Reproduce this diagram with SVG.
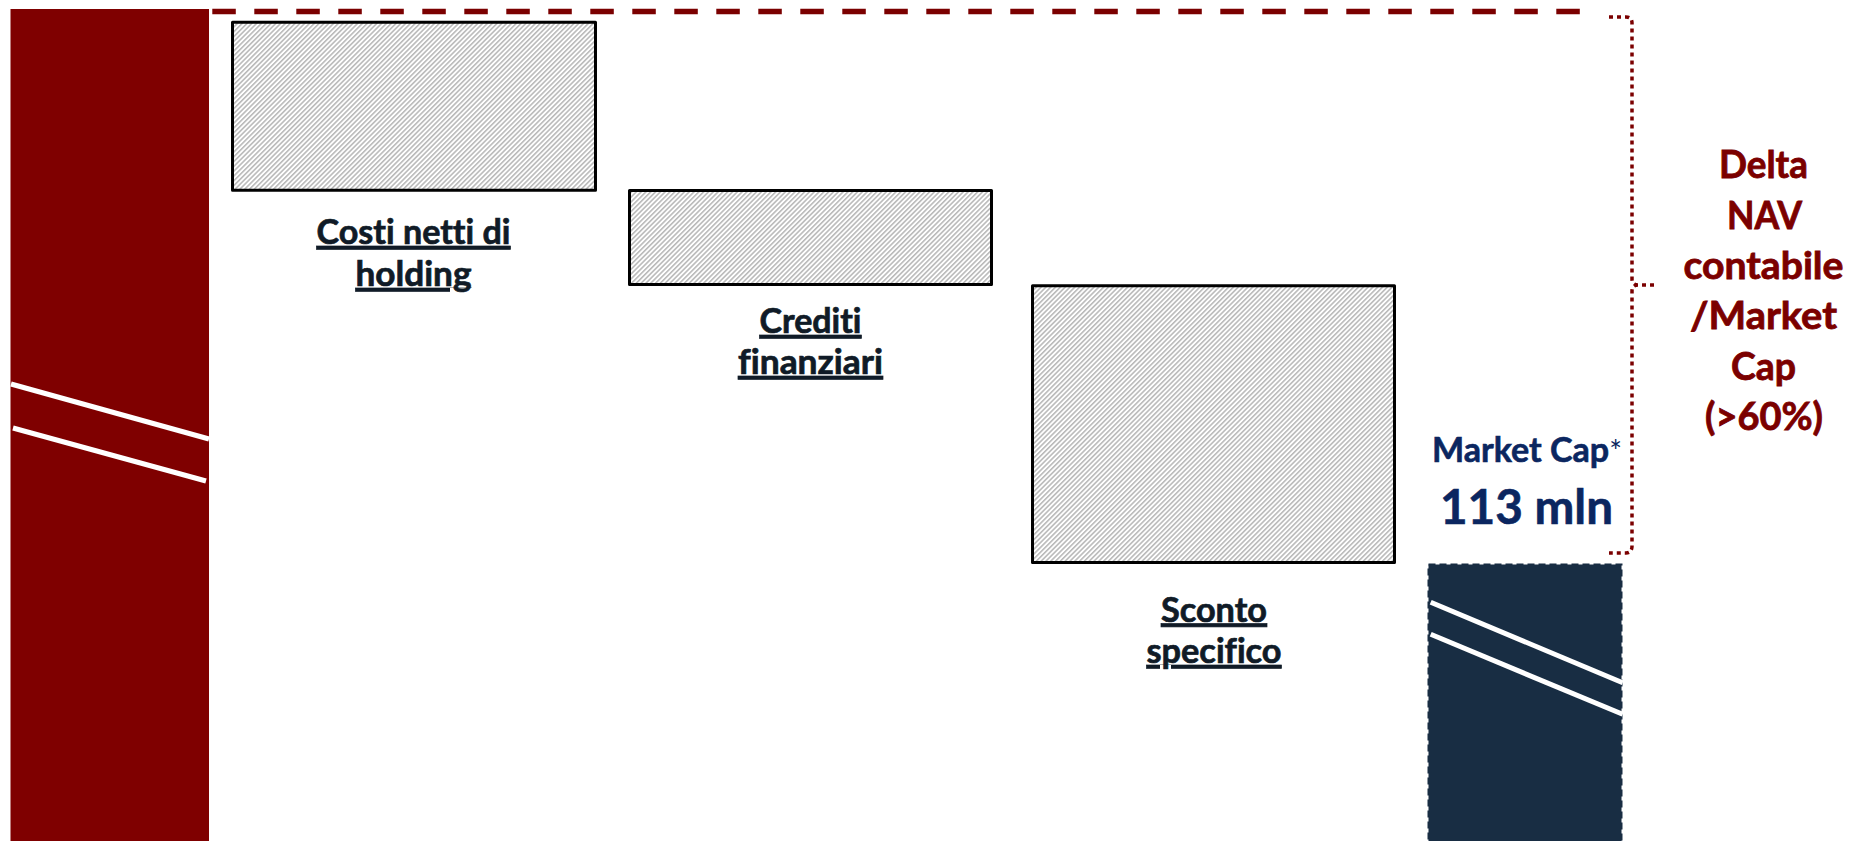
<svg xmlns="http://www.w3.org/2000/svg" width="1852" height="841" viewBox="0 0 1852 841">
  <style>
    text { font-family: Lato, "Open Sans", "Liberation Sans", sans-serif; font-weight: bold; font-variant-ligatures: none; }
    .lbl { fill: #101b27; stroke: #101b27; stroke-width: 0.7; font-size: 34px; text-anchor: middle; text-decoration: underline; }
    .delta { fill: #7b0000; stroke: #7b0000; stroke-width: 0.8; font-size: 38px; text-anchor: middle; }
    .mc { fill: #0b2660; stroke: #0b2660; stroke-width: 0.6; }
    .box { fill: url(#hatch); stroke: #000; stroke-width: 3; stroke-linejoin: round; }
    .cut { stroke: #fff; stroke-width: 5; }
  </style>
  <defs>
    <pattern id="hatch" width="3.4" height="3.4" patternUnits="userSpaceOnUse" patternTransform="rotate(45)">
      <rect width="3.4" height="3.4" fill="#fff"/>
      <line x1="0.8" y1="0" x2="0.8" y2="3.4" stroke="#aaaaaa" stroke-width="1.3"/>
    </pattern>
  </defs>
  <rect width="1852" height="841" fill="#fff"/>

  <g id="connectors">
    <line x1="212.3" y1="11.5" x2="1580" y2="11.5" stroke="#7b0000" stroke-width="5.5" stroke-dasharray="23.5 18.5"/>
    <path d="M1609,17 H1626 Q1632,17 1632,23 V279 Q1632,285 1638,285 H1654 M1638,285 Q1632,285 1632,291 V546 Q1632,553 1626,553 H1609" fill="none" stroke="#7b0000" stroke-width="3.5" stroke-dasharray="4 4"/>
  </g>

  <g id="nav-bar">
    <rect x="10.5" y="9" width="198.5" height="832" fill="#7f0000"/>
    <line class="cut" x1="11" y1="384" x2="209" y2="439"/>
    <line class="cut" x1="13" y1="428" x2="206" y2="481"/>
  </g>

  <g id="costi-netti">
    <rect class="box" x="232.5" y="22.2" width="363" height="168"/>
    <text class="lbl" x="413.5" y="244" textLength="194" lengthAdjust="spacingAndGlyphs">Costi netti di</text>
    <text class="lbl" x="413.5" y="286" textLength="116" lengthAdjust="spacingAndGlyphs">holding</text>
  </g>

  <g id="crediti">
    <rect class="box" x="629.5" y="190.5" width="362" height="94"/>
    <text class="lbl" x="810.5" y="333" textLength="102" lengthAdjust="spacingAndGlyphs">Crediti</text>
    <text class="lbl" x="810.5" y="374" textLength="145" lengthAdjust="spacingAndGlyphs">finanziari</text>
  </g>

  <g id="sconto">
    <rect class="box" x="1032.5" y="285.8" width="362" height="276.7"/>
    <text class="lbl" x="1214" y="621.5" textLength="106" lengthAdjust="spacingAndGlyphs">Sconto</text>
    <text class="lbl" x="1214" y="663" textLength="135" lengthAdjust="spacingAndGlyphs">specifico</text>
  </g>

  <g id="market-cap">
    <rect x="1428.5" y="564.5" width="193" height="280" fill="#182d43" stroke="#182d43" stroke-width="2" stroke-dasharray="7 4"/>
    <line class="cut" x1="1430.7" y1="602.3" x2="1622.7" y2="682.7"/>
    <line class="cut" x1="1430.7" y1="634.3" x2="1622.7" y2="714.3"/>
    <text class="mc" x="1432" y="462" font-size="34" textLength="190" lengthAdjust="spacingAndGlyphs">Market Cap<tspan font-size="30" font-weight="normal" stroke-width="0">*</tspan></text>
    <text class="mc" x="1526.5" y="524" font-size="47" text-anchor="middle" textLength="173" lengthAdjust="spacingAndGlyphs">113 mln</text>
  </g>

  <g id="delta-nav">
    <text class="delta" x="1763.5" y="178" textLength="89" lengthAdjust="spacingAndGlyphs">Delta</text>
    <text class="delta" x="1764.5" y="229" textLength="75" lengthAdjust="spacingAndGlyphs">NAV</text>
    <text class="delta" x="1763.5" y="279" textLength="160" lengthAdjust="spacingAndGlyphs">contabile</text>
    <text class="delta" x="1763.5" y="329" textLength="147" lengthAdjust="spacingAndGlyphs">/Market</text>
    <text class="delta" x="1763.5" y="380" textLength="65" lengthAdjust="spacingAndGlyphs">Cap</text>
    <text class="delta" x="1764" y="430" textLength="118" lengthAdjust="spacingAndGlyphs">(&gt;60%)</text>
  </g>
</svg>
